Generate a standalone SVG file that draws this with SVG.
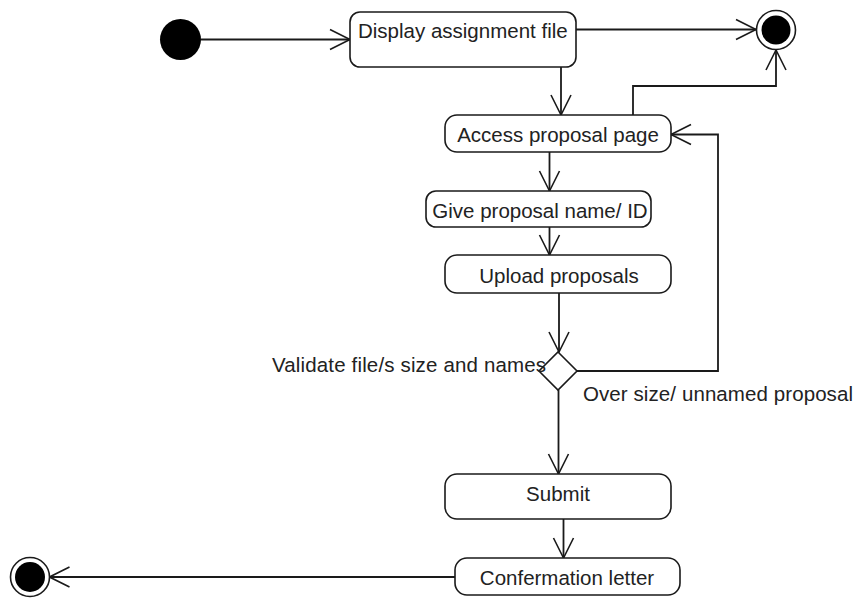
<svg xmlns="http://www.w3.org/2000/svg" width="857" height="598" viewBox="0 0 857 598">
  <style>
    .box { fill: #ffffff; stroke: #1a1a1a; stroke-width: 1.6; }
    .edge { fill: none; stroke: #1a1a1a; stroke-width: 1.8; }
    .lbl { font-family: "Liberation Sans", Arial, Helvetica, sans-serif; font-size: 20.5px; fill: #222222; }
    .mid { text-anchor: middle; }
    .dot { fill: #000000; }
    .ring { fill: #ffffff; stroke: #1a1a1a; stroke-width: 1.6; }
  </style>
  <defs>
    <!-- open V arrowhead used by every transition -->
    <marker id="open" markerUnits="userSpaceOnUse" markerWidth="24" markerHeight="24" viewBox="-2 -2 24 24" refX="20" refY="10" orient="auto">
      <path d="M0,0 L20,10 L0,20" fill="none" stroke="#1a1a1a" stroke-width="1.6"/>
    </marker>
  </defs>

  <rect width="857" height="598" fill="#ffffff"/>

  <!-- transitions -->
  <g id="connectors">
    <path class="edge" d="M201,39.5 H350" marker-end="url(#open)"/>
    <path class="edge" d="M576,29.5 H756" marker-end="url(#open)"/>
    <path class="edge" d="M561,67 V115" marker-end="url(#open)"/>
    <path class="edge" d="M633,115 V86 H776 V50" marker-end="url(#open)"/>
    <path class="edge" d="M549.5,152 V191" marker-end="url(#open)"/>
    <path class="edge" d="M549.5,227 V255" marker-end="url(#open)"/>
    <path class="edge" d="M559,293 V352" marker-end="url(#open)"/>
    <path class="edge" d="M577,371 H718 V134.5 H671" marker-end="url(#open)"/>
    <path class="edge" d="M558.5,390 V474" marker-end="url(#open)"/>
    <path class="edge" d="M563.5,519 V558" marker-end="url(#open)"/>
    <path class="edge" d="M455,577 H49.5" marker-end="url(#open)"/>
  </g>

  <!-- start node -->
  <g id="start">
    <circle class="dot" cx="180.5" cy="39.5" r="20.5"/>
  </g>

  <!-- upper end node -->
  <g id="end-top">
    <circle class="ring" cx="776" cy="30" r="19.5"/>
    <circle class="dot" cx="776" cy="30" r="14.5"/>
  </g>

  <!-- lower end node -->
  <g id="end-bottom">
    <circle class="ring" cx="30" cy="577" r="19.5"/>
    <circle class="dot" cx="30" cy="577" r="15"/>
  </g>

  <g id="display-assignment">
    <rect class="box" x="350" y="12" width="226" height="55" rx="10" ry="10"/>
    <text class="lbl" x="358" y="38">Display assignment file</text>
  </g>

  <g id="access-proposal">
    <rect class="box" x="445" y="115" width="226" height="37" rx="12" ry="12"/>
    <text class="lbl mid" x="558" y="142">Access proposal page</text>
  </g>

  <g id="give-name">
    <rect class="box" x="426" y="191" width="225" height="36" rx="10" ry="10"/>
    <text class="lbl mid" x="540" y="218">Give proposal name/ ID</text>
  </g>

  <g id="upload">
    <rect class="box" x="445" y="255" width="226" height="38" rx="12" ry="12"/>
    <text class="lbl mid" x="559" y="283">Upload proposals</text>
  </g>

  <g id="validate">
    <polygon class="box" points="558,352 577,371 558,390 539,371"/>
    <text class="lbl" x="272" y="372" textLength="274" lengthAdjust="spacing">Validate file/s size and names</text>
  </g>

  <g id="oversize-label">
    <text class="lbl" x="583" y="401" textLength="270" lengthAdjust="spacing">Over size/ unnamed proposal</text>
  </g>

  <g id="submit">
    <rect class="box" x="445" y="474" width="226" height="45" rx="12" ry="12"/>
    <text class="lbl mid" x="558" y="501">Submit</text>
  </g>

  <g id="confirmation">
    <rect class="box" x="455" y="558" width="225" height="37" rx="12" ry="12"/>
    <text class="lbl mid" x="567" y="585">Confermation letter</text>
  </g>
</svg>
